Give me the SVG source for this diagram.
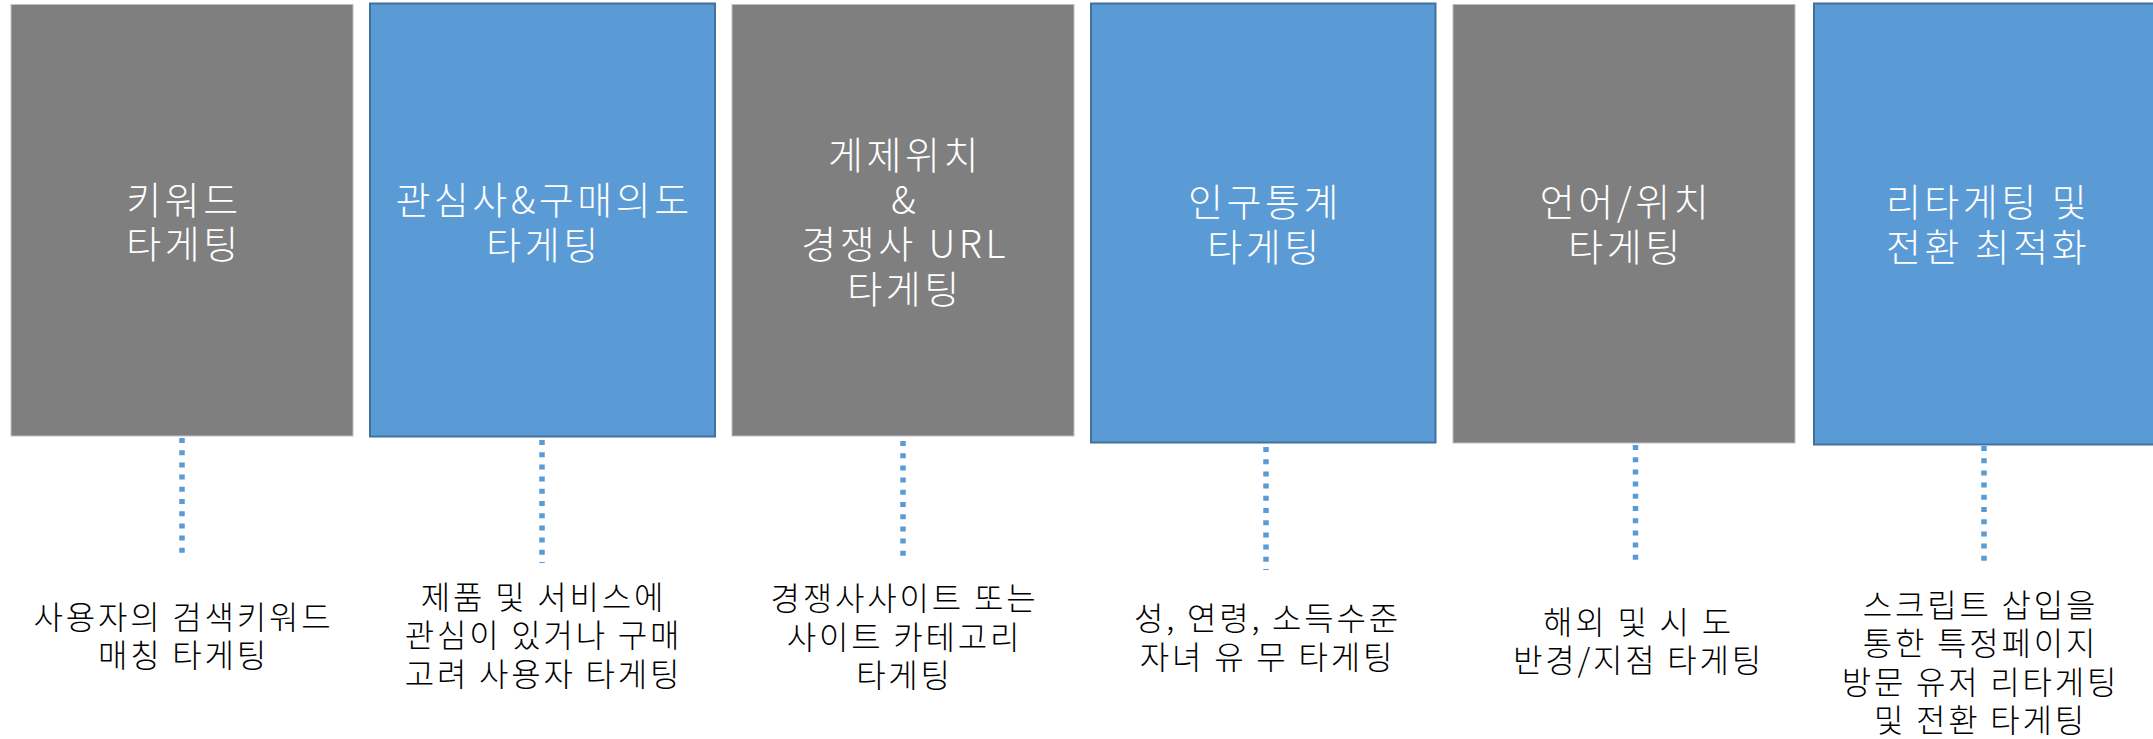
<svg xmlns="http://www.w3.org/2000/svg" width="2153" height="739" viewBox="0 0 2153 739">
<style>
.gray{fill:#7F7F7F;stroke:#BFBFBF;stroke-width:1}
.blue{fill:#5B9BD5;stroke:#41719C;stroke-width:2}
.t{font-family:"Noto Sans CJK KR","Malgun Gothic",sans-serif;font-weight:300;fill:#FFFFFF;font-size:38px;letter-spacing:3.5px;text-anchor:middle}
.b{font-family:"Noto Sans CJK KR","Malgun Gothic",sans-serif;font-weight:300;fill:#000000;font-size:32px;letter-spacing:2.8px;text-anchor:middle}
.c{stroke:#5B9BD5;stroke-width:5.5;stroke-dasharray:5 7.2;fill:none}
</style>
<rect width="2153" height="739" fill="#FFFFFF"/>
<g id="connectors">
<line class="c" x1="182" y1="438" x2="182" y2="560"/>
<line class="c" x1="542" y1="440" x2="542" y2="563"/>
<line class="c" x1="903" y1="441" x2="903" y2="563"/>
<line class="c" x1="1266" y1="447" x2="1266" y2="570"/>
<line class="c" x1="1635.5" y1="445" x2="1635.5" y2="567"/>
<line class="c" x1="1984" y1="446" x2="1984" y2="567"/>
</g>
<g id="node1">
<rect class="gray" x="11" y="4.5" width="342" height="431.5"/>
<text class="t"><tspan x="184" y="214">키워드</tspan><tspan x="184" y="258">타게팅</tspan></text>
</g>
<g id="node2">
<rect class="blue" x="370" y="3.5" width="345" height="433"/>
<text class="t"><tspan x="544" y="214">관심사&amp;구매의도</tspan><tspan x="544" y="259">타게팅</tspan></text>
</g>
<g id="node3">
<rect class="gray" x="732" y="4.5" width="342" height="431.5"/>
<text class="t"><tspan x="905" y="169">게제위치</tspan><tspan x="905" y="213.5">&amp;</tspan><tspan x="905" y="258">경쟁사 URL</tspan><tspan x="905" y="302.5">타게팅</tspan></text>
</g>
<g id="node4">
<rect class="blue" x="1091" y="3.5" width="344.5" height="439"/>
<text class="t"><tspan x="1265" y="216">인구통계</tspan><tspan x="1265" y="261">타게팅</tspan></text>
</g>
<g id="node5">
<rect class="gray" x="1453" y="4.5" width="342" height="438.5"/>
<text class="t"><tspan x="1626" y="216">언어/위치</tspan><tspan x="1626" y="261">타게팅</tspan></text>
</g>
<g id="node6">
<rect class="blue" x="1814" y="3.5" width="344" height="441"/>
<text class="t"><tspan x="1988" y="216">리타게팅 및</tspan><tspan x="1988" y="261">전환 최적화</tspan></text>
</g>
<g id="label1">
<text class="b"><tspan x="183.5" y="629">사용자의 검색키워드</tspan><tspan x="183.5" y="667">매칭 타게팅</tspan></text>
</g>
<g id="label2">
<text class="b"><tspan x="543.5" y="609">제품 및 서비스에</tspan><tspan x="543.5" y="647">관심이 있거나 구매</tspan><tspan x="543.5" y="686">고려 사용자 타게팅</tspan></text>
</g>
<g id="label3">
<text class="b"><tspan x="904.5" y="610">경쟁사사이트 또는</tspan><tspan x="904.5" y="649">사이트 카테고리</tspan><tspan x="904.5" y="687">타게팅</tspan></text>
</g>
<g id="label4">
<text class="b"><tspan x="1267.5" y="630">성, 연령, 소득수준</tspan><tspan x="1267.5" y="669">자녀 유 무 타게팅</tspan></text>
</g>
<g id="label5">
<text class="b"><tspan x="1638.5" y="634">해외 및 시 도</tspan><tspan x="1638.5" y="672">반경/지점 타게팅</tspan></text>
</g>
<g id="label6">
<text class="b"><tspan x="1980.5" y="617">스크립트 삽입을</tspan><tspan x="1980.5" y="655">통한 특정페이지</tspan><tspan x="1980.5" y="694">방문 유저 리타게팅</tspan><tspan x="1980.5" y="732">및 전환 타게팅</tspan></text>
</g>
</svg>
